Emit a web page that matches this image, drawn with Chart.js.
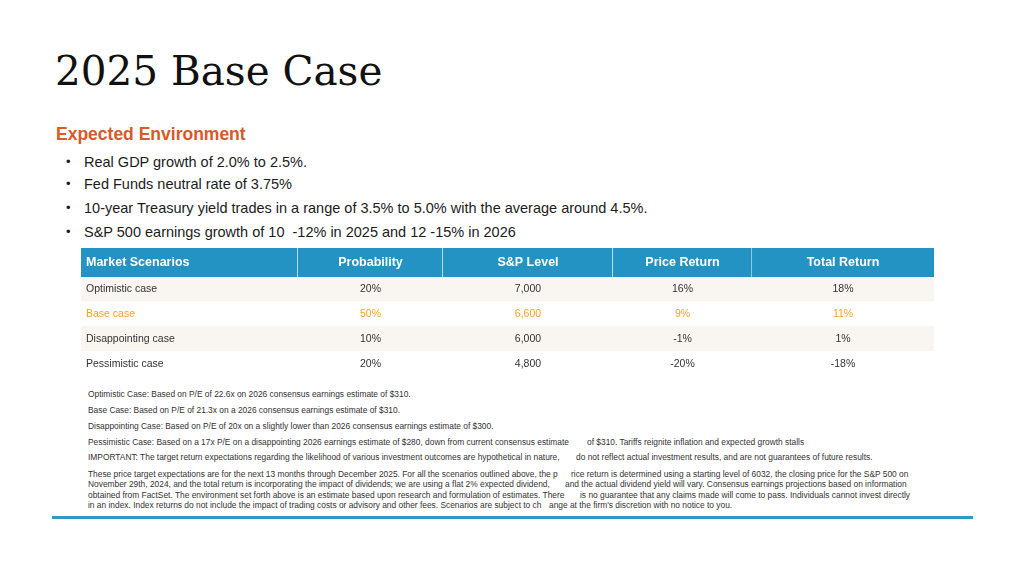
<!DOCTYPE html>
<html>
<head>
<meta charset="utf-8">
<script src="https://cdn.jsdelivr.net/npm/chart.js@4"></script>
<style>
  html, body { margin: 0; padding: 0; background: #fff; }
  body { width: 1024px; height: 579px; position: relative; overflow: hidden; font-family: "Liberation Sans", Arial, sans-serif; color: #1c1c1c; }
  .abs { position: absolute; white-space: pre; }
  #title { left: 55px; top: 46px; font-family: "DejaVu Serif", serif; font-size: 40.5px; line-height: 50px; color: #111; }
  #subtitle { left: 56px; top: 123px; font-size: 17.5px; line-height: 22px; font-weight: bold; color: #d8592a; }
  .bullet { left: 84px; font-size: 14.5px; line-height: 24px; color: #1c1c1c; }
  .bullet::before { content: "•"; position: absolute; left: -18px; font-size: 13px; }
  .note { font-size: 8.4px; line-height: 10px; color: #333; }
  #tableWrap { position: absolute; left: 81px; top: 248px; width: 853px; }
  #tableWrap canvas { display: block; }
  #rule { position: absolute; left: 52px; top: 516px; width: 921px; height: 3px; background: #3199c8; }
</style>
</head>
<body>
<div id="title" class="abs">2025 Base Case</div>
<div id="subtitle" class="abs">Expected Environment</div>
<div class="abs bullet" style="top:150px">Real GDP growth of 2.0% to 2.5%.</div>
<div class="abs bullet" style="top:172px">Fed Funds neutral rate of 3.75%</div>
<div class="abs bullet" style="top:196px">10-year Treasury yield trades in a range of 3.5% to 5.0% with the average around 4.5%.</div>
<div class="abs bullet" style="top:220px">S&amp;P 500 earnings growth of 10  -12% in 2025 and 12 -15% in 2026</div>

<div id="tableWrap">
  <canvas id="headChart" width="853" height="29"></canvas>
  <canvas id="bodyChart" width="853" height="99"></canvas>
</div>

<div class="abs note" style="left:88px;top:389px">Optimistic Case: Based on P/E of 22.6x on 2026 consensus earnings estimate of $310.</div>
<div class="abs note" style="left:88px;top:405px">Base Case: Based on P/E of 21.3x on a 2026 consensus earnings estimate of $310.</div>
<div class="abs note" style="left:88px;top:421px">Disappointing Case: Based on P/E of 20x on a slightly lower than 2026 consensus earnings estimate of $300.</div>
<div class="abs note" style="left:88px;top:437px">Pessimistic Case: Based on a 17x P/E on a disappointing 2026 earnings estimate of $280, down from current consensus estimate</div>
<div class="abs note" style="left:587px;top:437px">of $310. Tariffs reignite inflation and expected growth stalls</div>
<div class="abs note" style="left:88px;top:452px">IMPORTANT: The target return expectations regarding the likelihood of various investment outcomes are hypothetical in nature,</div>
<div class="abs note" style="left:576px;top:452px">do not reflect actual investment results, and are not guarantees of future results.</div>
<div class="abs note" style="left:88px;top:469px">These price target expectations are for the next 13 months through December 2025. For all the scenarios outlined above, the p</div>
<div class="abs note" style="left:571px;top:469px">rice return is determined using a starting level of 6032, the closing price for the S&amp;P 500 on</div>
<div class="abs note" style="left:88px;top:479px">November 29th, 2024, and the total return is incorporating the impact of dividends; we are using a flat 2% expected dividend,</div>
<div class="abs note" style="left:565px;top:479px">and the actual dividend yield will vary. Consensus earnings projections based on information</div>
<div class="abs note" style="left:88px;top:490px">obtained from FactSet. The environment set forth above is an estimate based upon research and formulation of estimates. There</div>
<div class="abs note" style="left:580px;top:490px">is no guarantee that any claims made will come to pass. Individuals cannot invest directly</div>
<div class="abs note" style="left:88px;top:500px">in an index. Index returns do not include the impact of trading costs or advisory and other fees. Scenarios are subject to ch</div>
<div class="abs note" style="left:549px;top:500px">ange at the firm's discretion with no notice to you.</div>

<div id="rule"></div>

<script>
// table data
const columns = ['Market Scenarios', 'Probability', 'S&P Level', 'Price Return', 'Total Return'];
const scenarios = ['Optimistic case', 'Base case', 'Disappointing case', 'Pessimistic case'];
const probability = [20, 50, 10, 20];
const spLevel = [7000, 6600, 6000, 4800];
const priceReturn = [16, 9, -1, -20];
const totalReturn = [18, 11, 1, -18];
const highlightRow = 1; // base case

// layout (column edges in px from the table's left edge)
const COL_EDGES = [0, 217, 362, 532, 671, 853];
const HEAD_BLUE = '#2393c3';
const ROW_TINT = '#f9f6f2';
const ORANGE = '#f5a325';

const pct = v => v + '%';
const cellText = (col, row) => {
    if (col === 0) return scenarios[row];
    if (col === 1) return pct(probability[row]);
    if (col === 2) return spLevel[row].toLocaleString('en-US');
    if (col === 3) return pct(priceReturn[row]);
    return pct(totalReturn[row]);
};

// draws text at the middle of each cell bar
const cellLabels = (getText, getStyle) => ({
    id: 'cellLabels',
    afterDatasetsDraw(chart) {
        const ctx = chart.ctx;
        ctx.save();
        ctx.textBaseline = 'middle';
        chart.data.datasets.forEach((ds, col) => {
            chart.getDatasetMeta(col).data.forEach((bar, row) => {
                const s = getStyle(col, row);
                ctx.font = s.font;
                ctx.fillStyle = s.color;
                const left = Math.min(bar.x, bar.base);
                if (col === 0) {
                    ctx.textAlign = 'left';
                    ctx.fillText(getText(col, row), left + 5, bar.y);
                } else {
                    ctx.textAlign = 'center';
                    ctx.fillText(getText(col, row), (bar.x + bar.base) / 2, bar.y);
                }
            });
        });
        ctx.restore();
    }
});

const baseOptions = {
    indexAxis: 'y',
    responsive: false,
    animation: false,
    layout: { padding: 0 },
    events: [],
    plugins: { legend: { display: false }, tooltip: { enabled: false } },
    datasets: { bar: { categoryPercentage: 1, barPercentage: 1, grouped: false, borderSkipped: false } },
    scales: {
        x: { type: 'linear', display: false, min: 0, max: COL_EDGES[COL_EDGES.length - 1] },
        y: { display: false }
    }
};

// header row
new Chart(document.getElementById('headChart'), {
    type: 'bar',
    data: {
        labels: ['header'],
        datasets: columns.map((c, j) => ({
            label: c,
            data: [[COL_EDGES[j], COL_EDGES[j + 1]]],
            backgroundColor: HEAD_BLUE,
            borderColor: 'rgba(255,255,255,0.18)',
            borderWidth: { right: j < columns.length - 1 ? 1 : 0, left: 0, top: 0, bottom: 0 }
        }))
    },
    options: baseOptions,
    plugins: [cellLabels(col => columns[col], () => ({ font: 'bold 12.5px "Liberation Sans", Arial', color: '#ffffff' }))]
});

// body rows
new Chart(document.getElementById('bodyChart'), {
    type: 'bar',
    data: {
        labels: scenarios,
        datasets: columns.map((c, j) => ({
            label: c,
            data: scenarios.map(() => [COL_EDGES[j], COL_EDGES[j + 1]]),
            backgroundColor: ctx => ctx.dataIndex % 2 === 0 ? ROW_TINT : '#ffffff',
            borderWidth: 0
        }))
    },
    options: baseOptions,
    plugins: [cellLabels(cellText, (col, row) => ({
        font: '10.5px "Liberation Sans", Arial',
        color: row === highlightRow ? ORANGE : '#333333'
    }))]
});
</script>
</body>
</html>
